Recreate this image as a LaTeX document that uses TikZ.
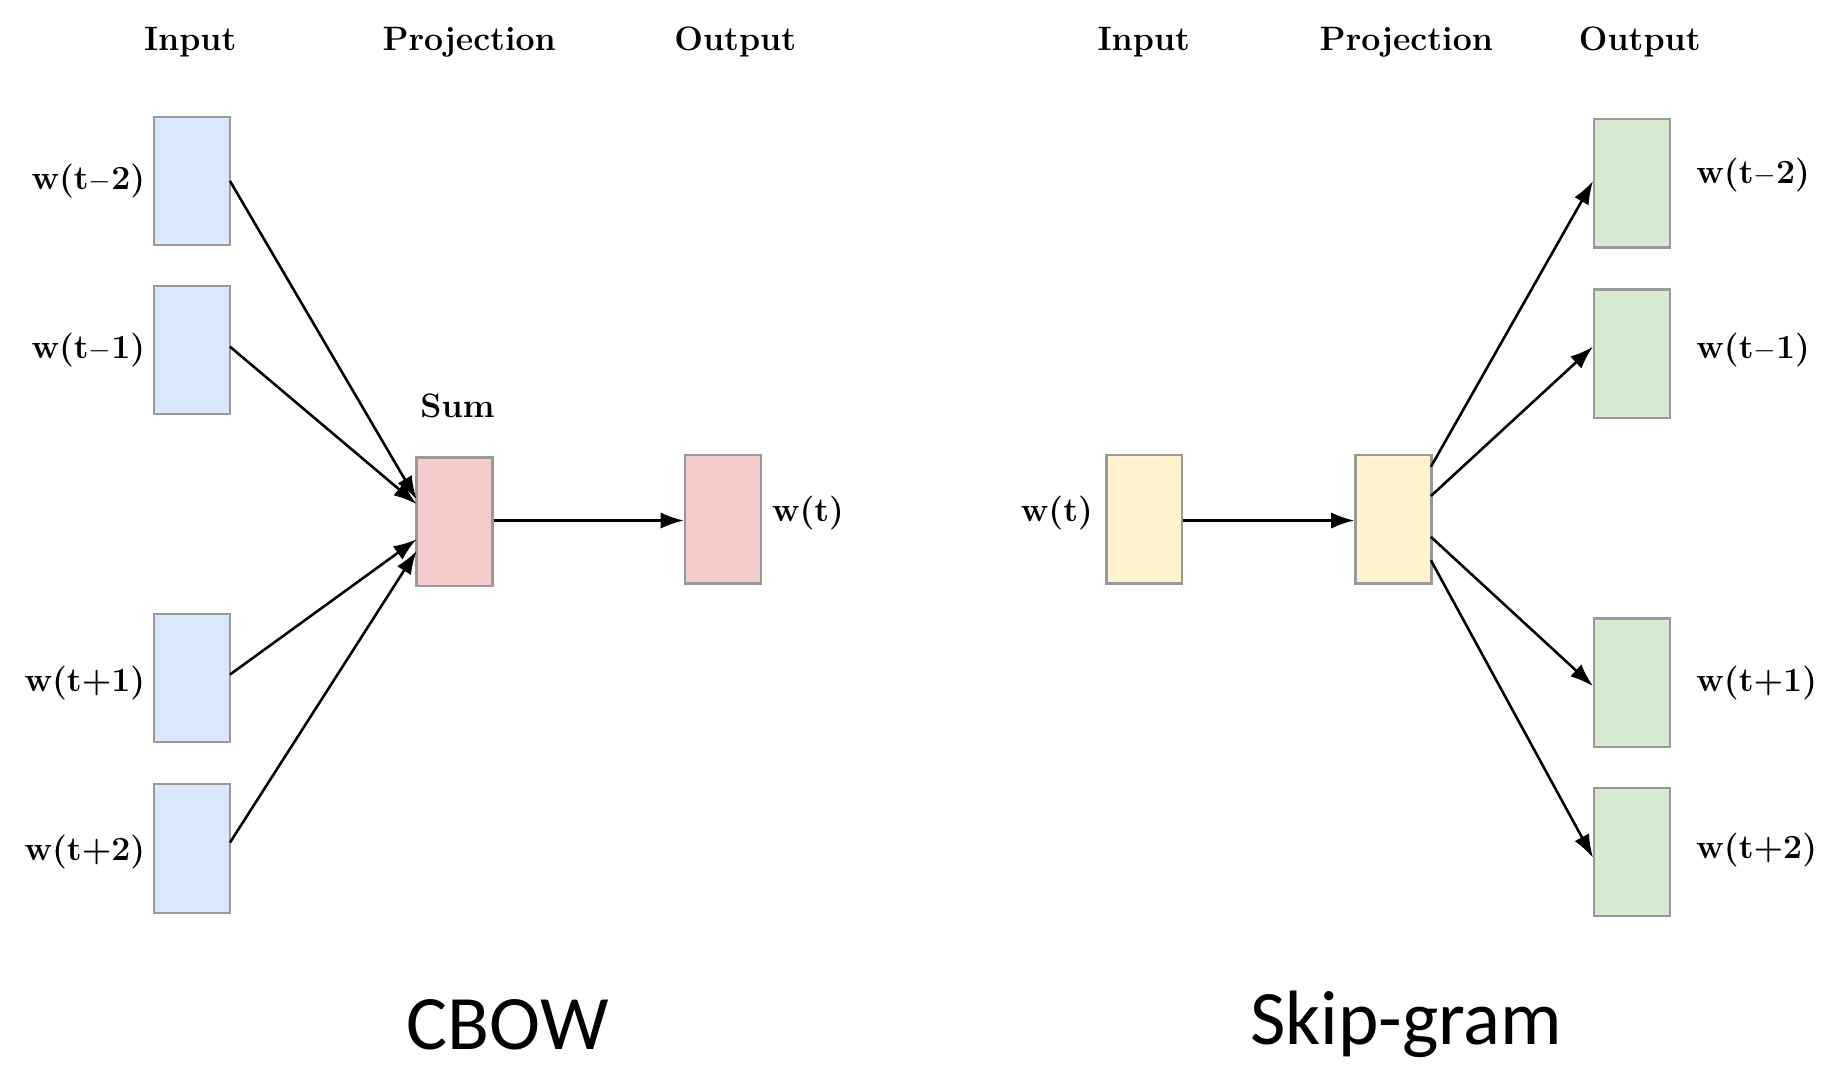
\documentclass[tikz,border=0pt]{standalone}
\usepackage{fontspec}
\newfontfamily\capfont{Carlito}
\usetikzlibrary{arrows.meta}
\definecolor{bl}{HTML}{DAE8FC}
\definecolor{pk}{HTML}{F4CCCC}
\definecolor{yl}{HTML}{FFF2CC}
\definecolor{gr}{HTML}{D9EAD3}
\begin{document}
\begin{tikzpicture}[x=1pt,y=-1pt,
  box/.style={draw=black!40,line width=2pt,minimum width=65pt,minimum height=110pt,inner sep=0pt},
  lab/.style={font=\fontsize{29}{32}\selectfont\bfseries},
  bigcap/.style={font=\capfont\fontsize{66}{76}\selectfont},
  arr/.style={-{Latex[length=20pt,width=14pt]},line width=2.2pt}]
\useasboundingbox (0,0) rectangle (1568,925);
% CBOW
\node[lab] (h1) at (163,36) {Input};
\node[lab] (h2) at (402,36) {Projection};
\node[lab] (h3) at (630,36) {Output};
\node[box,fill=bl] (i1) at (164.5,155) {};
\node[box,fill=bl] (i2) at (164.5,300) {};
\node[box,fill=bl] (i3) at (164.5,581) {};
\node[box,fill=bl] (i4) at (164.5,727) {};
\node[lab,anchor=east] (l1) at (128,155) {w(t$-$2)};
\node[lab,anchor=east] (l2) at (128,300) {w(t$-$1)};
\node[lab,anchor=east] (l3) at (128,585) {w(t+1)};
\node[lab,anchor=east] (l4) at (128,730) {w(t+2)};
\node[box,fill=pk] (s) at (389.5,447) {};
\node[lab] (sl) at (392,348) {Sum};
\node[box,fill=pk] (o) at (619.5,445) {};
\node[lab,anchor=west] (ol) at (658,440) {w(t)};
\coordinate (a1) at (197,155); \coordinate (a2) at (197,297);
\coordinate (a3) at (197,578); \coordinate (a4) at (197,722);
\draw[arr] (a1) -- (357,428);
\draw[arr] (a2) -- (357,432);
\draw[arr] (a3) -- (357,462);
\draw[arr] (a4) -- (357,472);
\draw[arr] (s.east |- 0,446) -- (o.west |- 0,446);
\node[bigcap] (c1) at (435,878) {CBOW};
% Skip-gram
\node[lab] (g1) at (980,36) {Input};
\node[lab] (g2) at (1205,36) {Projection};
\node[lab] (g3) at (1405,36) {Output};
\node[box,fill=yl] (si) at (980.5,445) {};
\node[lab,anchor=east] (sil) at (940,440) {w(t)};
\node[box,fill=yl] (sp) at (1194,445) {};
\node[box,fill=gr] (o1) at (1398.5,157) {};
\node[box,fill=gr] (o2) at (1398.5,303) {};
\node[box,fill=gr] (o3) at (1398.5,585) {};
\node[box,fill=gr] (o4) at (1398.5,730) {};
\node[lab,anchor=west] (m1) at (1450,150) {w(t$-$2)};
\node[lab,anchor=west] (m2) at (1450,300) {w(t$-$1)};
\node[lab,anchor=west] (m3) at (1450,585) {w(t+1)};
\node[lab,anchor=west] (m4) at (1450,728) {w(t+2)};
\draw[arr] (si.east |- 0,446) -- (sp.west |- 0,446);
\draw[arr] (1226,400) -- (o1.west |- 0,155);
\draw[arr] (1226,425) -- (o2.west |- 0,297);
\draw[arr] (1226,460) -- (o3.west |- 0,588);
\draw[arr] (1226,480) -- (o4.west |- 0,735);
\node[bigcap] (c2) at (1205,878) {Skip-gram};
\end{tikzpicture}
\end{document}
